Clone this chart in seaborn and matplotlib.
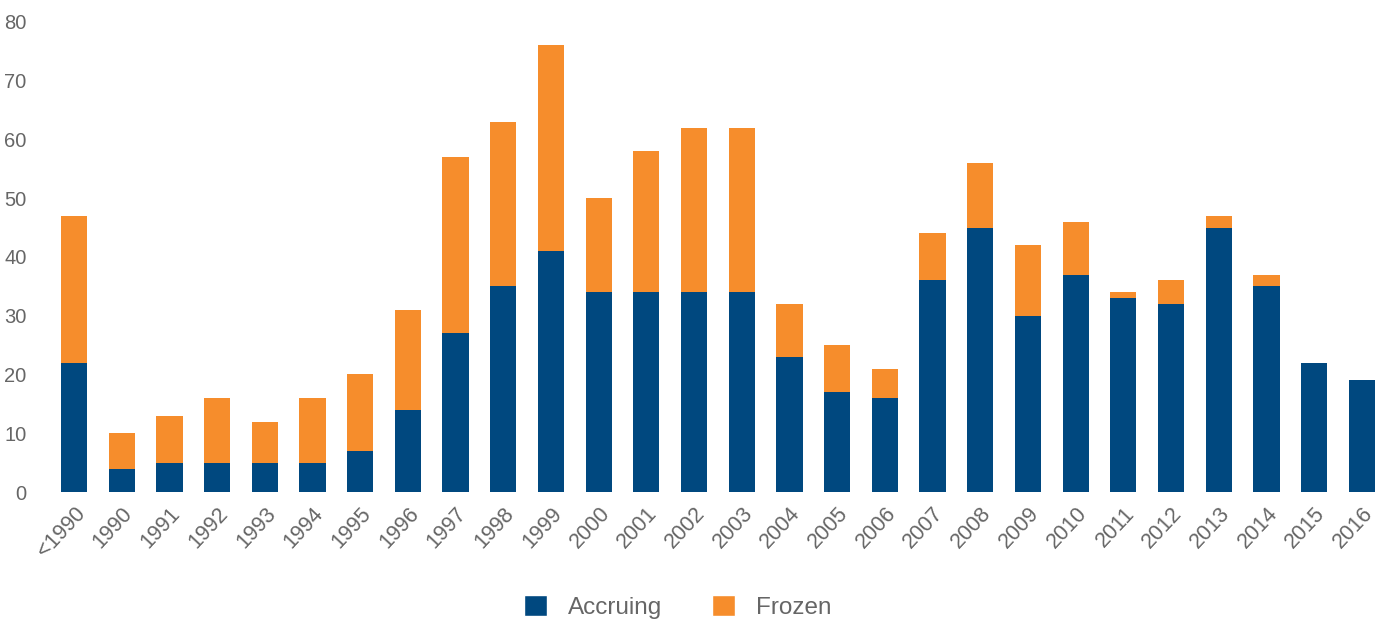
import matplotlib
matplotlib.use("Agg")
import matplotlib.pyplot as plt
import seaborn as sns
import pandas as pd
from matplotlib.patches import Patch

categories = ["<1990", "1990", "1991", "1992", "1993", "1994", "1995", "1996", "1997",
              "1998", "1999", "2000", "2001", "2002", "2003", "2004", "2005", "2006",
              "2007", "2008", "2009", "2010", "2011", "2012", "2013", "2014", "2015", "2016"]
accruing = [22, 4, 5, 5, 5, 5, 7, 14, 27, 35, 41, 34, 34, 34, 34, 23, 17, 16,
            36, 45, 30, 37, 33, 32, 45, 35, 22, 19]
frozen = [25, 6, 8, 11, 7, 11, 13, 17, 30, 28, 35, 16, 24, 28, 28, 9, 8, 5,
          8, 11, 12, 9, 1, 4, 2, 2, 0, 0]
y_ticks = [0, 10, 20, 30, 40, 50, 60, 70, 80]

BLUE = "#00487F"
ORANGE = "#F68D2C"
GREY = "#666666"

sns.set_theme(style="white")
plt.rcParams["font.family"] = ["Liberation Sans", "DejaVu Sans"]

df = pd.DataFrame({"year": categories, "accruing": accruing, "frozen": frozen})
df["total"] = df["accruing"] + df["frozen"]

fig = plt.figure(figsize=(13.85, 6.21), dpi=100)
ax = fig.add_axes([0.0362, 0.2077, 0.9643, 0.757])

# stacked look: totals in orange behind, accruing in blue on top
sns.barplot(data=df, x="year", y="total", color=ORANGE, saturation=1, width=0.55,
            linewidth=0, ax=ax)
sns.barplot(data=df, x="year", y="accruing", color=BLUE, saturation=1, width=0.55,
            linewidth=0, ax=ax)

ax.set_ylim(0, 80)
ax.set_xlim(-0.5, 27.5)
ax.set_yticks(y_ticks)
ax.set_xlabel("")
ax.set_ylabel("")
sns.despine(ax=ax, left=True, bottom=True)
ax.tick_params(axis="y", length=0, pad=17, labelsize=14.5, labelcolor=GREY)
ax.tick_params(axis="x", length=0, pad=8, labelsize=15.5, labelcolor=GREY)
plt.setp(ax.get_xticklabels(), rotation=47, ha="right", rotation_mode="anchor")

handles = [Patch(facecolor=BLUE, label="Accruing"), Patch(facecolor=ORANGE, label="Frozen")]
leg = fig.legend(handles=handles, loc="center", bbox_to_anchor=(0.4895, 0.0225), ncol=2,
                 frameon=False, fontsize=17.5, handlelength=0.95, handleheight=0.95,
                 handletextpad=0.86, columnspacing=2.05)
for t in leg.get_texts():
    t.set_color(GREY)

fig.savefig("out.png", dpi=100)
